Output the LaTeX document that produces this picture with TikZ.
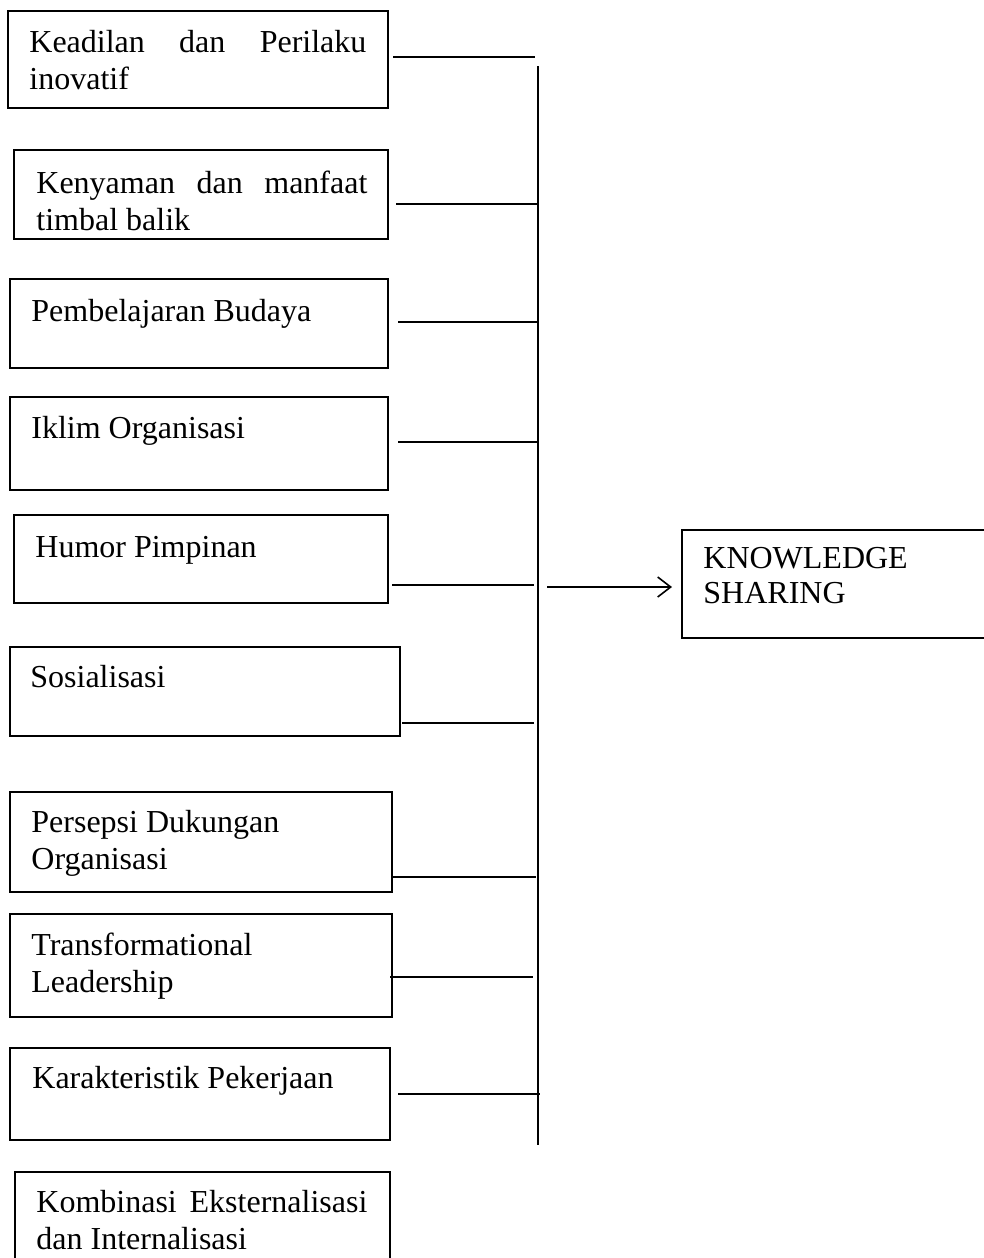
\documentclass[tikz,border=0pt]{standalone}
\usepackage{fontspec}
\setmainfont{Liberation Serif}
\usetikzlibrary{fit,arrows.meta}
\tikzset{
  box/.style={draw, line width=1pt, inner sep=0pt, rectangle},
  txt/.style={inner sep=0pt, anchor=base west, font=\fontsize{16}{18.5}\selectfont},
  conn/.style={line width=1pt},
  trunk/.style={line width=0.6pt},
  arr/.style={line width=1pt, -{Straight Barb[length=6.5pt,width=10pt,line width=0.8pt]}}
}
\begin{document}
\begin{tikzpicture}[x=0.5pt,y=-0.5pt]
\useasboundingbox (0,0) rectangle (984,1258);
\clip (0,0) rectangle (984,1258);
% boxes
\node[box, fit={(8,11) (388,108)}] (b1) {};
\node[box, fit={(14,150) (388,239)}] (b2) {};
\node[box, fit={(10,279) (388,368)}] (b3) {};
\node[box, fit={(10,397) (388,490)}] (b4) {};
\node[box, fit={(14,515) (388,603)}] (b5) {};
\node[box, fit={(10,647) (400,736)}] (b6) {};
\node[box, fit={(10,792) (392,892)}] (b7) {};
\node[box, fit={(10,914) (392,1017)}] (b8) {};
\node[box, fit={(10,1048) (390,1140)}] (b9) {};
\node[box, fit={(15,1172) (390,1270)}] (b10) {};
\node[box, fit={(682,530) (995,638)}] (ks) {};
% texts
\node[txt] (t1) at (29,52) {\parbox[t]{170pt}{\makebox[168.5pt][s]{Keadilan dan Perilaku}\\inovatif}};
\node[txt] (t2) at (36,193) {\parbox[t]{170pt}{\makebox[165.5pt][s]{Kenyaman dan manfaat}\\timbal balik}};
\node[txt] (t3) at (31,321) {Pembelajaran Budaya};
\node[txt] (t4) at (31,438) {Iklim Organisasi};
\node[txt] (t5) at (35,557) {Humor Pimpinan};
\node[txt] (t6) at (30,687) {Sosialisasi};
\node[txt] (t7) at (31,832) {\parbox[t]{170pt}{Persepsi Dukungan\\Organisasi}};
\node[txt] (t8) at (31,955) {\parbox[t]{170pt}{Transformational\\Leadership}};
\node[txt] (t9) at (32,1088) {Karakteristik Pekerjaan};
\node[txt] (t10) at (36,1212) {\parbox[t]{170pt}{\makebox[165.5pt][s]{Kombinasi \ Eksternalisasi}\\dan Internalisasi}};
\node[txt, font=\fontsize{16}{17.5}\selectfont] (tks) at (703,568) {\parbox[t]{150pt}{KNOWLEDGE\\SHARING}};
% connector coordinates
\coordinate (s1) at (393,57);   \coordinate (e1) at (535,57);
\coordinate (s2) at (396,204);  \coordinate (e2) at (538,204);
\coordinate (s3) at (398,322);  \coordinate (e3) at (538,322);
\coordinate (s4) at (398,442);  \coordinate (e4) at (538,442);
\coordinate (s5) at (392,585);  \coordinate (e5) at (534,585);
\coordinate (s6) at (402,723);  \coordinate (e6) at (534,723);
\coordinate (s7) at (393,877);  \coordinate (e7) at (536,877);
\coordinate (s8) at (390,977);  \coordinate (e8) at (533,977);
\coordinate (s9) at (398,1094); \coordinate (e9) at (540,1094);
\coordinate (vtop) at (538,66); \coordinate (vbot) at (538,1145);
\coordinate (as) at (547,587);  \coordinate (ae) at (672,587);
\foreach \i in {1,...,9} { \draw[conn] (s\i) -- (e\i); }
\draw[trunk] (vtop) -- (vbot);
\draw[arr] (as) -- (ae);
\end{tikzpicture}
\end{document}
